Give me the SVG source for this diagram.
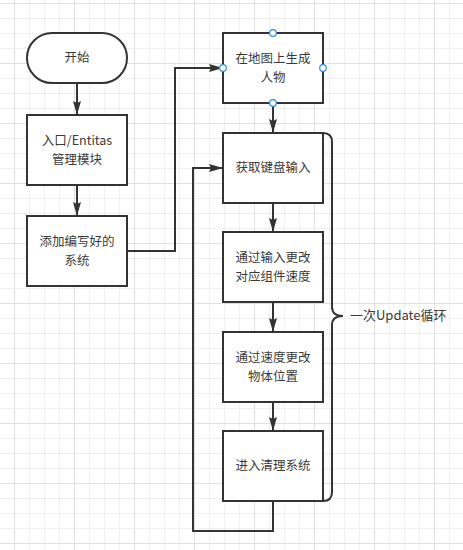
<svg xmlns="http://www.w3.org/2000/svg" width="463" height="550" viewBox="0 0 463 550">
<style>
.box{fill:#fff;stroke:#333;stroke-width:2}
.lbl{font-family:"Noto Sans CJK SC","Noto Sans",sans-serif;font-size:12.5px;fill:#3a3a3a;text-anchor:middle}
.conn{fill:none;stroke:#333;stroke-width:2}
.pt{fill:#fff;stroke:#2a8cf0;stroke-width:1.2}
</style>
<defs>
<pattern id="grid" patternUnits="userSpaceOnUse" x="14" y="3" width="60" height="60">
<path d="M15.5,0V60M30.5,0V60M45.5,0V60M0,15.5H60M0,30.5H60M0,45.5H60" stroke="#efefef" stroke-width="1" fill="none"/>
<path d="M0.5,0V60M0,0.5H60" stroke="#e0e0e0" stroke-width="1" fill="none"/>
</pattern>
<marker id="arr" markerUnits="userSpaceOnUse" markerWidth="16" markerHeight="10" refX="14" refY="4.5" orient="auto">
<path d="M0,0.5L14,4.5L0,8.5L2,4.5Z" fill="#333"/>
</marker>
</defs>
<rect width="463" height="550" fill="#fff"/>
<rect width="463" height="550" fill="url(#grid)"/>

<g id="connectors">
<path class="conn" d="M77,83V115" marker-end="url(#arr)"/>
<path class="conn" d="M77,185V216" marker-end="url(#arr)"/>
<path class="conn" d="M127,251H175V68H223" marker-end="url(#arr)"/>
<path class="conn" d="M273,103V133" marker-end="url(#arr)"/>
<path class="conn" d="M273,203V232" marker-end="url(#arr)"/>
<path class="conn" d="M273,302V332" marker-end="url(#arr)"/>
<path class="conn" d="M273,402V431" marker-end="url(#arr)"/>
<path class="conn" d="M273,501V531H193V168H223" marker-end="url(#arr)"/>
</g>

<g id="start">
<rect class="box" x="27" y="33" width="100" height="50" rx="25" ry="25"/>
<text class="lbl" x="77" y="62.4">开始</text>
</g>
<g id="entry">
<rect class="box" x="27" y="115" width="100" height="70"/>
<text class="lbl" x="77" y="145.3">入口/Entitas<tspan x="77" dy="18.2">管理模块</tspan></text>
</g>
<g id="add-systems">
<rect class="box" x="27" y="216" width="100" height="70"/>
<text class="lbl" x="77" y="246.3">添加编写好的<tspan x="77" dy="18.2">系统</tspan></text>
</g>
<g id="spawn">
<rect class="box" x="223" y="33" width="100" height="70"/>
<text class="lbl" x="273" y="63.3">在地图上生成<tspan x="273" dy="18.2">人物</tspan></text>
<circle class="pt" cx="273" cy="33" r="3.3"/>
<circle class="pt" cx="223" cy="68" r="3.3"/>
<circle class="pt" cx="323" cy="68" r="3.3"/>
<circle class="pt" cx="273" cy="103" r="3.3"/>
</g>
<g id="input">
<rect class="box" x="223" y="133" width="100" height="70"/>
<text class="lbl" x="273" y="172.4">获取键盘输入</text>
</g>
<g id="velocity">
<rect class="box" x="223" y="232" width="100" height="70"/>
<text class="lbl" x="273" y="262.3">通过输入更改<tspan x="273" dy="18.2">对应组件速度</tspan></text>
</g>
<g id="position">
<rect class="box" x="223" y="332" width="100" height="70"/>
<text class="lbl" x="273" y="362.3">通过速度更改<tspan x="273" dy="18.2">物体位置</tspan></text>
</g>
<g id="cleanup">
<rect class="box" x="223" y="431" width="100" height="70"/>
<text class="lbl" x="273" y="470.4">进入清理系统</text>
</g>
<g id="update-loop">
<path class="conn" d="M323,133Q332,133 332,142V307Q332,316 343,316Q332,316 332,325V492Q332,501 323,501"/>
<text class="lbl" x="350" y="320.4" style="text-anchor:start;font-size:13px">一次Update循环</text>
</g>
</svg>
